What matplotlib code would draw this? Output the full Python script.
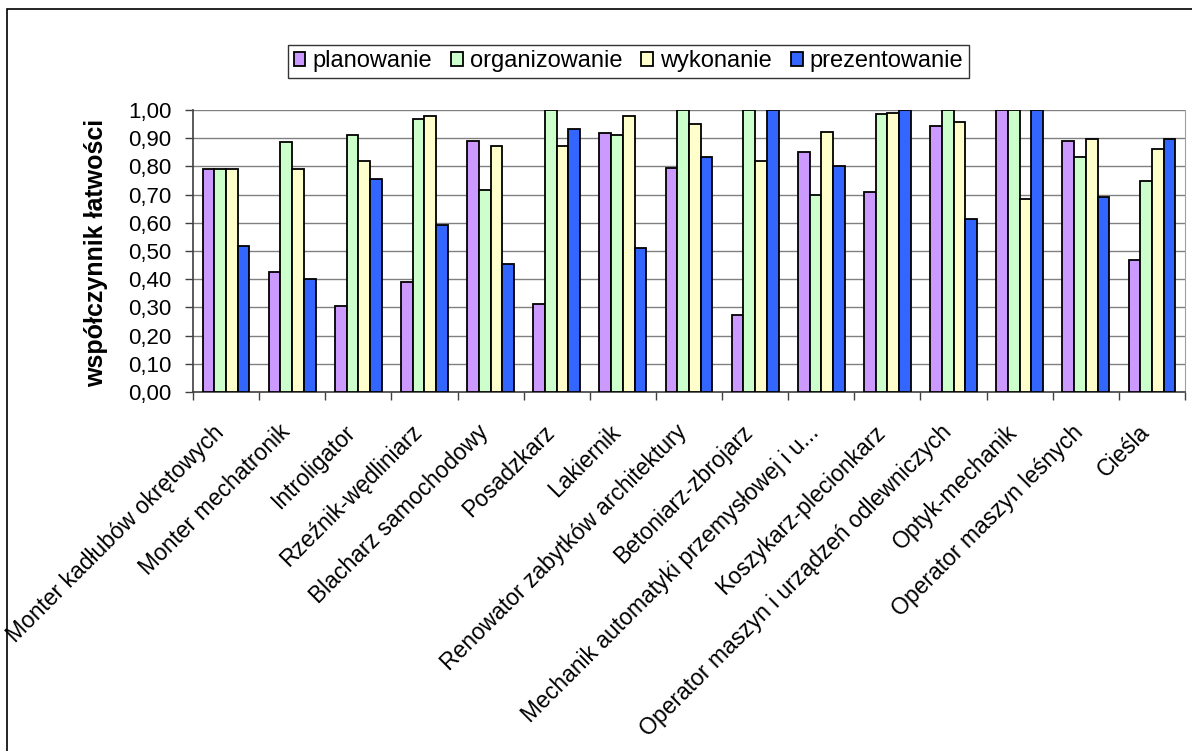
import matplotlib
matplotlib.use("Agg")
import matplotlib.pyplot as plt
from matplotlib.patches import Rectangle
from matplotlib.ticker import FuncFormatter, FixedLocator
from matplotlib.transforms import ScaledTranslation
import numpy as np

plt.rcParams['font.family'] = ['Liberation Sans', 'DejaVu Sans']

categories = [
    "Monter kadłubów okrętowych",
    "Monter mechatronik",
    "Introligator",
    "Rzeźnik-wędliniarz",
    "Blacharz samochodowy",
    "Posadzkarz",
    "Lakiernik",
    "Renowator zabytków architektury",
    "Betoniarz-zbrojarz",
    "Mechanik automatyki przemysłowej i u...",
    "Koszykarz-plecionkarz",
    "Operator maszyn i urządzeń odlewniczych",
    "Optyk-mechanik",
    "Operator maszyn leśnych",
    "Cieśla",
]
series_names = ["planowanie", "organizowanie", "wykonanie", "prezentowanie"]
planowanie = [0.79, 0.425, 0.305, 0.39, 0.889, 0.311, 0.918, 0.796, 0.272, 0.852, 0.71, 0.945, 1.0, 0.89, 0.467]
organizowanie = [0.792, 0.887, 0.911, 0.969, 0.716, 1.0, 0.911, 1.0, 1.0, 0.698, 0.985, 1.0, 1.0, 0.832, 0.749]
wykonanie = [0.79, 0.79, 0.82, 0.979, 0.874, 0.874, 0.979, 0.949, 0.818, 0.923, 0.991, 0.959, 0.684, 0.896, 0.86]
prezentowanie = [0.518, 0.402, 0.754, 0.591, 0.455, 0.934, 0.512, 0.834, 1.0, 0.803, 1.0, 0.612, 1.0, 0.692, 0.897]
colors = ["#CC99FF", "#CCFFCC", "#FFFFCC", "#3366FF"]
y_ticks = [0.0, 0.1, 0.2, 0.3, 0.4, 0.5, 0.6, 0.7, 0.8, 0.9, 1.0]

W, H = 1192, 751
fig = plt.figure(figsize=(W / 100, H / 100), dpi=100)
ax = fig.add_axes([193 / W, 1 - 392 / H, (1185 - 193) / W, (392 - 110) / H])

# outer chart frame
fig.patches.append(Rectangle((7 / W, -0.05), 1.2, 1 - 9 / H + 0.05, transform=fig.transFigure,
                             fill=False, edgecolor="#000000", linewidth=1.2))

x = np.arange(len(categories))
w = 0.177
data = [planowanie, organizowanie, wykonanie, prezentowanie]
for j, (name, vals, c) in enumerate(zip(series_names, data, colors)):
    ax.bar(x + (j - 1.5) * w, vals, width=w, color=c, edgecolor="black",
           linewidth=1.3, label=name, zorder=3)

ax.set_xlim(-0.5, len(categories) - 0.5)
ax.set_ylim(0, 1.0)
ax.yaxis.set_major_locator(FixedLocator(y_ticks))
ax.yaxis.set_major_formatter(FuncFormatter(lambda v, p: f"{v:.2f}".replace(".", ",")))
ax.yaxis.grid(True, color="#808080", linewidth=1.0, zorder=0)
ax.set_axisbelow(True)

ax.xaxis.set_major_locator(FixedLocator(np.arange(-0.5, len(categories), 1.0)))
ax.xaxis.set_major_formatter(FuncFormatter(lambda v, p: ""))
ax.xaxis.set_minor_locator(FixedLocator(x))
ax.set_xticklabels(categories, minor=True, rotation=45, ha="right",
                   rotation_mode="anchor", fontsize=16.5)
ax.tick_params(axis="x", which="minor", length=0, pad=12)
ax.tick_params(axis="x", which="major", length=6, width=1, color="#404040", direction="out")
ax.tick_params(axis="y", length=6, width=1, color="#404040", labelsize=16, pad=9.5)

shift = ScaledTranslation(-0.14, -0.12, fig.dpi_scale_trans)
for lab in ax.xaxis.get_minorticklabels():
    lab.set_transform(lab.get_transform() + shift)

ax.spines["top"].set_visible(False)
ax.spines["right"].set_color("#A0A0A0")
ax.spines["left"].set_color("#404040")
ax.spines["bottom"].set_color("#404040")
ax.spines["left"].set_linewidth(1.2)
ax.spines["bottom"].set_linewidth(1.2)

fig.text(96 / W, 1 - 253 / H, "współczynnik łatwości", rotation=90, fontsize=18,
         fontweight="bold", ha="center", va="center")

leg = fig.legend(loc="center", bbox_to_anchor=(628.5 / W, 1 - 61.5 / H), ncol=4,
                 fontsize=17, frameon=True, fancybox=False, edgecolor="black",
                 handlelength=0.5, handleheight=0.5, handletextpad=0.3,
                 columnspacing=0.8, borderpad=0.25, borderaxespad=0)
leg.get_frame().set_linewidth(1.0)

fig.savefig("out.png", dpi=100)
